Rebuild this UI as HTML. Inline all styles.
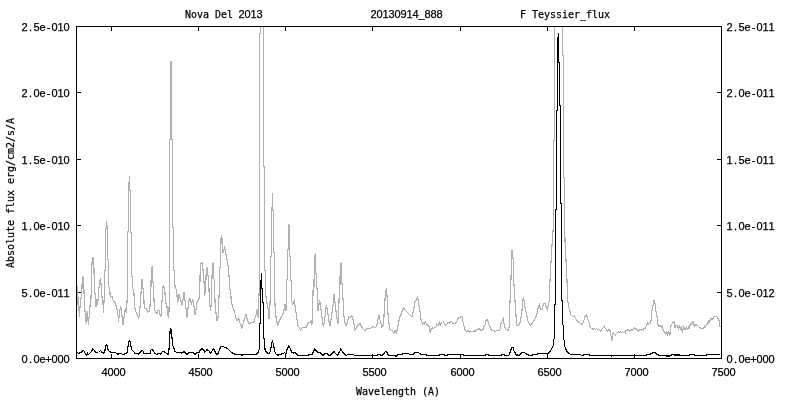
<!DOCTYPE html>
<html lang="en"><head><meta charset="utf-8"><title>Nova Del 2013 - 20130914_888 - F Teyssier_flux</title>
<style>
html,body{margin:0;padding:0;background:#fff;}
body{width:800px;height:400px;overflow:hidden;}
svg{display:block;will-change:transform;}
text{fill:#000;stroke:#000;stroke-width:0.25px;}
.m{font-family:"DejaVu Sans Mono","Liberation Mono",monospace;font-size:11px;}
.n{font-family:"Liberation Sans","DejaVu Sans",sans-serif;font-size:11px;text-anchor:middle;}
.ax{stroke:#000;stroke-width:1;fill:none;shape-rendering:crispEdges;}
.g{stroke:#b0b0b0;stroke-width:1.15;fill:none;stroke-linejoin:miter;shape-rendering:crispEdges;}
.b{stroke:#000;fill:none;stroke-linejoin:miter;shape-rendering:crispEdges;}
</style></head><body>
<svg width="800" height="400" viewBox="0 0 800 400">
<rect x="0" y="0" width="800" height="400" fill="#fff"/>
<g fill="#000" shape-rendering="crispEdges"><rect x="111" y="354" width="1" height="4"/><rect x="111" y="27" width="1" height="4"/><rect x="198" y="354" width="1" height="4"/><rect x="198" y="27" width="1" height="4"/><rect x="285" y="354" width="1" height="4"/><rect x="285" y="27" width="1" height="4"/><rect x="372" y="354" width="1" height="4"/><rect x="372" y="27" width="1" height="4"/><rect x="460" y="354" width="1" height="4"/><rect x="460" y="27" width="1" height="4"/><rect x="547" y="354" width="1" height="4"/><rect x="547" y="27" width="1" height="4"/><rect x="634" y="354" width="1" height="4"/><rect x="634" y="27" width="1" height="4"/><rect x="77" y="292" width="4" height="1"/><rect x="717" y="292" width="4" height="1"/><rect x="77" y="225" width="4" height="1"/><rect x="717" y="225" width="4" height="1"/><rect x="77" y="159" width="4" height="1"/><rect x="717" y="159" width="4" height="1"/><rect x="77" y="92" width="4" height="1"/><rect x="717" y="92" width="4" height="1"/></g>
<polyline class="g" points="77.6,286.5 77.7,305 78.5,297 79.3,316.5 80.5,300 81.7,297 82.3,276.7 83.2,277.5 83.8,286.5 84.5,306 85.7,318 86.3,323.5 87.2,311 87.8,317 88.4,325.3 89.3,314 90.2,304 91,298 91.5,277 92.2,259 93,257.5 93.7,259 94.2,278 94.7,292 95.6,297.5 96,306.8 96.8,299 97.7,304.8 98.8,289 99.6,283 100.5,278 101.1,285 101.6,291 102.2,300 103.1,305 103.5,313 104,302 104.5,289 104.5,271 105.5,270 105.5,229 106.5,228 106.5,221 107.5,229 107.5,259 108.5,260 108.5,286 109.8,289 110.2,297.6 111.9,296 113.1,300.3 115,302.4 116.9,308.8 118.1,316.6 118.6,322.2 119.5,311.5 120.7,306.4 121.6,311 122.5,322.5 123.1,325 124.1,317 124.9,310 125.6,308.8 126.2,313 127,302.3 127.5,290 127.5,232 128.5,231 128.5,183 129.5,182 129.5,176 129.5,190 130.5,191 130.5,232 131.5,233 131.5,275.6 132.5,277 132.9,288.8 133.8,290 134.4,302.5 135.2,310 136.9,314.4 138.8,318.1 139.8,310 140.6,300 141.2,290 141.5,280 142.5,279.4 142.9,288 143.8,290 144,303.8 145,308.8 146.2,308.8 147.8,312.2 149.4,311.2 150,306.2 150.6,290 151,286 151.3,267.5 152.5,267 152.8,282 153.5,283 153.8,290 154,301.2 155,311.2 156.9,313.8 158.1,310 159.4,310.6 160.2,316.2 161.2,315 161.9,303 163.1,285.5 164.1,287.5 164.8,290 165.6,302.5 166.9,306.2 168.1,316 168.8,318 169.2,302.5 169.4,290 169.5,268 169.5,140 170.5,139 170.5,62 171.5,62 171.5,139 172.5,140 172.5,227 173.5,228 173.5,270 174.4,271.2 175,286.9 176.2,289.4 176.9,295 177.8,302.5 178.8,293.8 180,297.5 181.9,305.6 183.1,298.8 184,292.5 185,300 186.2,310 186.9,317.5 187.8,310 189,300 190,298.1 191.2,303.8 192.8,298.8 193.8,305 195,315 196.2,308.8 196.9,302.5 198.1,300.6 199.4,297.5 199.8,290 200.2,269.4 201.2,262.5 202.5,262.5 203.1,271.2 204.4,286.2 204.8,295.6 205.3,290 205.8,286 206.2,270.6 207.2,267.5 207.8,275 208.5,276.2 209,290 209.6,300 210,306.2 210.6,311.2 211.3,302.5 211.6,290 211.9,280 212.5,264.4 213.5,263.1 213.8,278.8 214.4,280 214.8,290 215,302.5 216.2,315 216.9,320.6 217.8,320.6 218.5,308.8 219,296.2 219.5,288 219.8,268.1 220.6,266.9 221,240 221.3,235 222.2,240 222.8,252.5 223.5,251.9 224.4,247.5 225.2,250 226.2,255 227.5,262.5 228.5,268.8 229.4,281.2 230,289.4 230.7,292 231.2,301.2 232.5,306.9 234.4,311.2 236.2,319.4 237.2,320.6 238.8,318.1 240,323.1 241.9,328.1 243.1,323.8 244.4,318.8 246,314.4 247.5,320.6 249,324 251.2,322.5 253.8,322.5 255,318.1 256.2,314.4 257.3,309.4 258.1,317.5 258.7,300 259.5,285 259.5,34 260.5,33 260.5,26"/>
<polyline class="g" points="263.5,26 263.5,166 264.5,167 264.5,270 265.5,271 265.5,292 266.2,298.8 268.1,308.8 269,319.4 269.8,308.8 270.5,290 270.5,257 271.5,256 271.5,208 272.5,207 272.5,193 272.5,210 273.5,211 273.5,252 274.5,253 274.5,290 275,305 276.2,319.4 277.8,325 279.4,320.6 281.9,316.2 283.8,311.2 285,303.8 286,310.6 286.5,290 286.5,280 287.5,279 287.5,250 288.5,249 288.5,224 289.5,226 289.5,256 290.5,257 290.5,280 291.5,281 291.5,290 291.9,301.9 292.8,303.8 294.4,300.6 295.6,310 296.9,318.8 298.1,325.6 300.6,330 302.5,327.5 306.2,327.5 308.1,323.1 310.6,321.9 311.9,325 312.5,310 313.1,290 314,286.2 314.4,256.2 315.2,255 315.6,273 316.5,274 316.6,286 317.2,290 317.5,293.8 318.1,311.2 319.4,301.2 320.2,302.5 321.2,311.2 322.5,321.2 323.5,326.9 324.8,318.8 325.6,310 326.5,305 327.5,311.2 328.8,320.6 329.8,326.2 331.2,318.8 332.5,308.8 333.5,302.5 334,293.8 335,302.5 336.2,312.5 337.5,322.5 338.1,323.1 338.8,308.8 339.3,290 340,285 340.2,263.8 341,263.1 341.6,283 342.5,284 342.4,290 343.1,300 343.8,315 345.6,325.6 346.9,324.4 348.5,316.9 350,318.1 351.2,315.6 352.5,316.9 353.8,323.8 355,330 356.9,326.9 360.2,323.5 361.9,327.5 364.4,330.6 366.9,328.8 370,328.8 373.1,326.5 375.6,327.8 376.9,325 378.1,318.1 379,315.6 380,320 381.9,326.9 383.5,325 384.4,308.8 385.5,292.5 386.5,288 387.2,298.5 387.8,311.2 388.8,322.5 390,329.4 392.5,331.2 393.8,333.1 395,330.6 396.2,333.1 397.5,328.8 399.4,318.1 401.2,313.8 403.5,308.1 406.2,311.2 409.4,314.4 411.9,316.9 413.8,308.8 415,301.2 416.5,300.6 417.5,296.5 418.5,302.5 420.2,313 420.5,319.4 421.4,320 421.7,323 421.7,322.8 422.6,324.0 423.5,322.8 424.4,324.0 425.3,321.6 426.6,324.1 428.1,325.6 429.4,326.9 429.7,330.6 430.3,333.1 430.9,329.4 432.2,327.8 433.4,328.4 435,327.5 436.4,326.9 436.6,324.7 436.6,324.4 437.7,325.6 438.8,324.4 439.4,322.5 440.3,325 441.3,323 442.5,322.5 443.4,321.6 444.1,323.4 445.3,325.3 446.6,324.4 447.8,323.4 448.4,321.6 448.4,321.9 449.5,323.1 450.6,321.9 451.6,321.6 452.8,323.1 455.6,323.1 456.6,321.6 457.5,320 458.4,317.8 460,317.5 460.6,316.2 462.5,316.6 462.8,321.2 463.8,325 464.7,328.8 465.6,330.9 465.6,330.4 466.7,331.6 467.7,330.4 468.8,331.6 469.4,332.3 470.4,331.4 474.1,331.4 474.1,330.2 475.4,331.3 476.6,330.0 477.6,329.5 479.1,328.6 480.4,330.1 482.6,330.1 483.5,328.6 484.4,325.4 485.4,324.5 485.7,320.4 486.9,319.5 487.9,320.4 488.5,324.5 490.1,326.7 491.3,330.1 494.1,330.4 495.4,331.7 496.6,330.4 499.1,330.4 500.2,328.9 500.5,324.5 501.6,322 502.2,320.4 503.4,318.2 503.8,322 504.6,327 505.7,328.9 507.2,329.5 508.2,330.4 508.8,328.2 509.4,327 509.6,308.8 510.6,290 511.5,262 512,250 513.3,261 513.6,280 514.4,290 515,301.2 516,315 516.5,325.6 518.1,325.6 520,323.1 521.5,315 522.2,308 522.8,301 523.5,297.5 524.2,302 525,308 526.5,314 528,321 529.5,324 530.5,325 532.5,323 535,319 537,314 538.5,306 539.3,304.5 540.5,309 542,309.5 543.5,303.5 545,303.5 546.5,308 547.5,309.5 548.8,303 549.4,300 550,280 551,262 552,245 552.5,238 553.5,225 553.5,141 554.5,140 554.5,26"/>
<polyline class="g" points="562.5,26 562.5,55 563.5,56 563.5,177 564.5,178 564.5,225 565,240 566,260 567,280 567.6,300 569,308 571,315 572.5,316.5 574.5,316 576,319 578.5,322 582,324.5 583.5,322 585,316.5 586.2,314.5 587.5,318 588.3,321.1 589.3,322.5 589.5,326 591.1,328 592.4,329.2 592.4,328.3 593.4,329.5 594.4,328.3 595.5,329.6 596.5,328.4 597.5,329.6 598.3,329.6 599.6,330.2 600.8,331.1 602,329.2 603.3,327.7 604.4,326.4 605.2,328.3 606.4,329.6 607.7,331.1 608.9,329.6 610.2,330.8 610.6,335.5 611.4,336.8 611.6,341.4 612.1,339.2 612.5,334.6 613.3,332.7 614.2,334.2 615.2,335.2 616.4,333.6 618.3,331.6 618.3,331.5 619.3,332.7 620.4,331.5 621.4,332.7 622.4,331.4 623.4,332.6 624.5,331.4 625.5,332.6 625.5,331.1 627,330.5 628.3,329.6 629.6,331.1 631.1,329.9 631.1,329.6 632.0,330.8 633.0,329.6 634.2,327.7 635.5,329.2 636.3,328.8 637.6,330 638.8,331.2 639.8,329.7 641.4,329.8 641.6,331 642,329.8 643.3,329.2 643.5,330.5 643.9,328.8 645.4,328.1 646.3,325 647.6,323.8 647.6,323.2 648.5,324.0 649.5,322.4 650.4,323.2 650.4,321.9 651.3,320 651.6,312.5 652.8,307.5 653.5,301 654,300.5 655,303.5 655.8,309.5 656.5,316.2 657.6,317.5 657.8,324.4 658.8,325.9 658.8,325.5 659.8,326.7 660.7,325.5 661.6,326.7 662.6,325.5 662.6,325.6 663,329.4 663.8,331.6 664.8,332.8 664.8,331.4 665.8,334.4 666.8,331.7 667.8,334.7 668.8,332.0 669.8,335.0 670.1,333.8 670.4,326.2 671.6,325 672.6,322.5 673.8,321.6 674.8,322.5 675.1,328.1 676,325 677.2,325.6 678.5,328.4 679.4,324.7 680.5,330.3 681.3,325.6 682.4,333.4 683.5,325.6 684.4,330.3 684.4,327.2 685.4,329.2 686.4,327.2 687.4,329.2 688.4,327.2 689.4,329.2 689.4,327.5 690.6,323.8 691.9,324.1 693.1,321.6 693.9,325 694.7,327.2 695,325 696.6,325 697.8,325.9 699.4,327.5 701.6,328.8 703.8,327.8 704.9,325.6 705.1,328.1 706.2,325.6 707.5,324.1 708.7,320.6 708.9,322.5 710,320.6 710.9,318.8 712.5,319.4 714.1,316.9 716.6,316.6 718.1,318.8 719.2,320.6 719.5,326.2 720.5,326.2"/>
<polyline class="b" stroke-width="1.15" points="76.5,351.5 77.5,352.5 79,354 80,352.5 81.5,352.2 82.8,350.3 83.8,350.5 85,353 86.5,355 87.5,353.5 88,355 90,353 91.5,351.5 92.8,348.8 94,350 95.5,352 97,353 98.5,352.5 100.5,350.5 102,352.2 103.5,353.2 104.8,352 105.5,345.8 106.5,344.5 107.5,346 108,349.5 109.5,351.8 111.5,352.2 114,352.5 116,353 118,354.2 120,353.5 121.5,353.5 123,355 124.5,353.8 126.5,353.2 127.5,352 128,346.5 128.8,341.5 129.7,340.5 130.5,342 130.8,346.2 131.5,346.8 132,350 134,352 135.5,353.8 139,354 140.5,352 142,350.3 143,351 144,353.2 150,353.2 151,350 152.2,349.3 153.5,351 155,353.5 156.5,354.2 159,353.5 160.5,354.2 162,352 164,351.5 166,353 168,354.2 169,349.5 169.7,337 170.3,328.5 171.2,329 171.8,335 172.5,345.5 173.5,346.5 174.5,351 176.5,352.2 181,352.5 182,353.2 183.8,351.5 185.5,353 187,354.2 189,352.5 193,352.5 195,354.2 197,352.5 199,352.5 200.5,349.5 202,348.5 203.5,350 205,352.2 207,349.5 208.5,350.5 210.5,353.2 212,351 213.5,348.8 214.5,350.5 216,354 218,354 219.5,349.5 220.8,346.5 222.5,346.5 225.5,347.5 228,349 231.5,352.5 234.5,354 240,354.5 242,355.2 244,354.5 248,354.8 254,354.8 257,353.8 258.8,352"/>
<polyline class="b" stroke-width="1.0" points="258.8,352 259.5,345 259.5,324 260.5,323 260.5,281 261.5,280 261.5,273 261.5,288 262.5,289 262.5,302 263.5,303 263.5,338 264.5,339 264.6,343"/>
<polyline class="b" stroke-width="1.15" points="264.6,343 265,349.5 266.5,352.5 269,354 270.5,351 271.5,344 272.5,341.5 273.5,344.5 274.5,351 276,354 278,355.2 281,354.2 284.5,352.8 286,353.5 287.2,349 288.8,345.8 290,348 292,352.5 293.5,353 295,352.5 298,355.2 308,355.2 309.5,354.5 312,355 313.5,351.5 315,348.8 316.5,351 318,352.8 320,352.5 323,355.2 325.5,353.5 327,353.5 329,355.2 330.5,355 334,351.8 335.5,353.5 337.5,355.2 339.5,352 340.8,349 342.5,351.5 345,355 346.5,355.2 348,354.5 353,354.5 354.5,355.2 377,355.2 378,354.5 380,354.5 381,355.2 383,355 385,352 386.5,351.5 388.5,355.2 394,355.2 396,356.2 398.5,354.5 402,354.2 403,353.3 408,353.3 409.5,354.2 413,354.2 415,352.5 418.5,352.5 420.5,354 421.5,354.5 425,354.5 427,355.2 430,355.8 439,355.2 440,354.5 443.5,354.5 444.5,355.2 447,355.2 448,354.5 463,354.5 464,355.2 485,355.2 486,354.5 488,354.5 489,355.2 501,355.2 502,354.5 504,354.5 505,355.2 509,355.2 510.5,351.5 511.5,347.5 513,347.5 514,351 516.5,355 519.5,355.2 521.5,353 524,352.5 526.5,354 529,355.2 532,355.2 533,354.5 537,354.2 538,353.3 548.5,353.3 551,350 553,346"/>
<polyline class="b" stroke-width="1.0" points="553,346 554.2,338 554.5,330 554.5,305 555.5,304 555.5,210 556.5,209 556.5,111 557.5,110 557.5,38 558.5,37 558.5,33 558.5,62 559.5,63 559.5,105 560.5,106 560.5,203 561.5,204 561.5,300 562.5,301 562.5,320 563.3,328 564,340 565,347"/>
<polyline class="b" stroke-width="1.15" points="565,347 566.5,351 568.5,353 570.5,354.2 580,354.5 581.5,355.2 583,355.2 584,354.5 589,354.5 590,355.2 610,355.2 611.5,356 613.5,355.2 615,356 616.5,355.2 623,355.2 624,356 625,355.2 646.2,355.2 648.8,354.4 650.6,354 653.1,352.5 655,352.5 656.9,354.4 658.8,355.2 663.8,355.2 666.2,356 670,356 672.5,354.4 674.4,355 688.8,355.2 690.6,354.4 693.8,354.4 695,355.2 706.2,355.2 708.1,354.4 718.8,354.4 720.6,355.2"/>
<rect class="ax" x="76.5" y="26.5" width="645" height="332"/>
<g class="t"><text class="n" x="104.5 110.5 116.5 122.5" y="376">4000</text>
<text class="n" x="191.5 197.5 203.5 209.5" y="376">4500</text>
<text class="n" x="278.5 284.5 290.5 296.5" y="376">5000</text>
<text class="n" x="365.5 371.5 377.5 383.5" y="376">5500</text>
<text class="n" x="453.5 459.5 465.5 471.5" y="376">6000</text>
<text class="n" x="540.5 546.5 552.5 558.5" y="376">6500</text>
<text class="n" x="627.5 633.5 639.5 645.5" y="376">7000</text>
<text class="n" x="714.5 720.5 726.5 732.5" y="376">7500</text>
<text class="n" x="24.5 30.5 36.5 42.5 48.5 54.5 60.5 66.5" y="363">0.0e+000</text>
<text class="n" x="729.5 735.5 741.5 747.5 753.5 759.5 765.5 771.5" y="363">0.0e+000</text>
<text class="n" x="24.5 30.5 36.5 42.5 48.5 54.5 60.5 66.5" y="297">5.0e-011</text>
<text class="n" x="729.5 735.5 741.5 747.5 753.5 759.5 765.5 771.5" y="297">5.0e-012</text>
<text class="n" x="24.5 30.5 36.5 42.5 48.5 54.5 60.5 66.5" y="230">1.0e-010</text>
<text class="n" x="729.5 735.5 741.5 747.5 753.5 759.5 765.5 771.5" y="230">1.0e-011</text>
<text class="n" x="24.5 30.5 36.5 42.5 48.5 54.5 60.5 66.5" y="164">1.5e-010</text>
<text class="n" x="729.5 735.5 741.5 747.5 753.5 759.5 765.5 771.5" y="164">1.5e-011</text>
<text class="n" x="24.5 30.5 36.5 42.5 48.5 54.5 60.5 66.5" y="97">2.0e-010</text>
<text class="n" x="729.5 735.5 741.5 747.5 753.5 759.5 765.5 771.5" y="97">2.0e-011</text>
<text class="n" x="24.5 30.5 36.5 42.5 48.5 54.5 60.5 66.5" y="31">2.5e-010</text>
<text class="n" x="729.5 735.5 741.5 747.5 753.5 759.5 765.5 771.5" y="31">2.5e-011</text>
<text class="m" x="185" y="18" textLength="48" lengthAdjust="spacingAndGlyphs">Nova Del</text>
<text class="n" x="241.5 247.5 253.5 259.5" y="18">2013</text>
<text class="n" x="373.5 379.5 385.5 391.5 397.5 403.5 409.5 415.5 421.5 427.5 433.5 439.5" y="18">20130914_888</text>
<text class="m" x="520" y="18" textLength="90" lengthAdjust="spacingAndGlyphs">F Teyssier_flux</text>
<text class="m" x="356" y="395" textLength="84" lengthAdjust="spacingAndGlyphs">Wavelength (A)</text>
<g transform="translate(14 268) rotate(-90)"><text class="m" x="0" y="0" textLength="150" lengthAdjust="spacingAndGlyphs">Absolute flux erg/cm2/s/A</text></g></g>
</svg></body></html>
